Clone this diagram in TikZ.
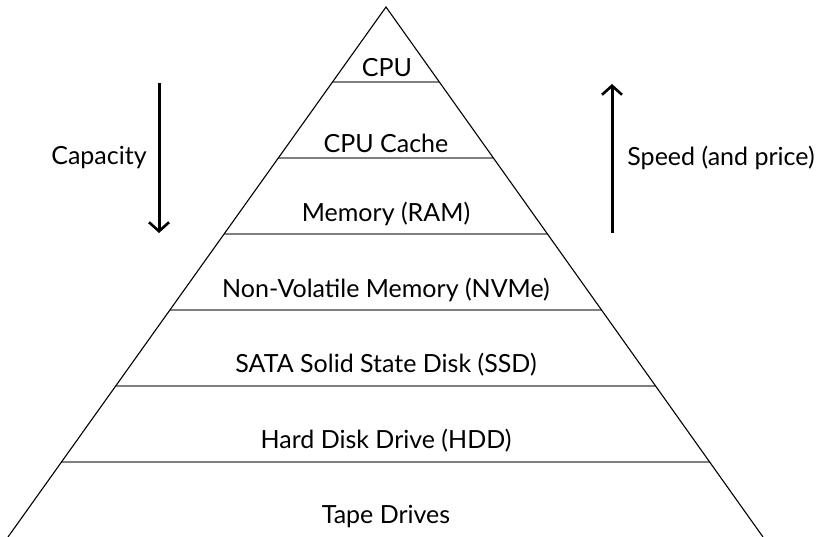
\documentclass[tikz,border=0pt]{standalone}
\usepackage{fontspec}
\setmainfont{Lato}
\usetikzlibrary{calc,arrows.meta}
\begin{document}
\begin{tikzpicture}[x=1pt,y=-1pt,
  lbl/.style={font=\fontsize{25}{30}\selectfont, inner sep=0pt, anchor=center},
  sep/.style={draw=black!50, line width=1.8pt},
  side/.style={draw=black, line width=1.1pt},
  bigarrow/.style={draw=black, line width=3pt, -{Straight Barb[length=9pt,width=20pt,line width=2.6pt]}}]
\useasboundingbox (0,0) rectangle (824,537);
\coordinate (apex) at (386,7);
\coordinate (bl) at (8,537);
\coordinate (br) at (763,537);
\foreach \y [count=\i] in {82,158,234,310,386,462}{
  \coordinate (l\i) at ($(apex)!{(\y-7)/530}!(bl)$);
  \coordinate (r\i) at ($(apex)!{(\y-7)/530}!(br)$);
  \draw[sep] (l\i) -- (r\i);
}
\draw[side] (bl) -- (apex) -- (br);
\node[lbl] (cpu) at (387,68) {CPU};
\node[lbl] (cache) at (386,143) {CPU Cache};
\node[lbl] (ram) at (386,214) {Memory (RAM)};
\node[lbl] (nvme) at (386,290) {Non-Volatile Memory (NVMe)};
\node[lbl] (ssd) at (386,365) {SATA Solid State Disk (SSD)};
\node[lbl] (hdd) at (386,441) {Hard Disk Drive (HDD)};
\node[lbl] (tape) at (386,517) {Tape Drives};
\node[lbl] (cap) at (99,158) {Capacity};
\node[lbl] (speed) at (721,158) {Speed (and price)};
\coordinate (ca1) at (159,83);
\coordinate (ca2) at (159,233);
\coordinate (sa1) at (612,233);
\coordinate (sa2) at (612,84);
\draw[bigarrow] (ca1) -- (ca2);
\draw[bigarrow] (sa1) -- (sa2);
\end{tikzpicture}
\end{document}
